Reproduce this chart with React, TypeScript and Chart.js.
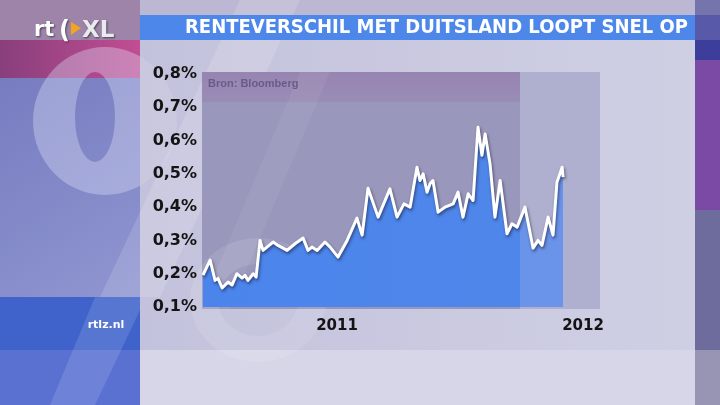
import React, { useEffect, useRef } from "react";
import { Chart, registerables } from "chart.js";

Chart.register(...registerables);

const titleText = "RENTEVERSCHIL MET DUITSLAND LOOPT SNEL OP";
const sourceText = "Bron: Bloomberg";
const siteText = "rtlz.nl";

// time as fractional years
const dates = [
  2010.455, 2010.484, 2010.504, 2010.516, 2010.533, 2010.557, 2010.573, 2010.593,
  2010.614, 2010.626, 2010.638, 2010.659, 2010.671, 2010.687, 2010.699, 2010.740,
  2010.760, 2010.797, 2010.829, 2010.862, 2010.882, 2010.898, 2010.919, 2010.951,
  2010.972, 2011.004, 2011.041, 2011.081, 2011.102, 2011.126, 2011.167, 2011.215,
  2011.244, 2011.272, 2011.297, 2011.325, 2011.337, 2011.350, 2011.366, 2011.378,
  2011.390, 2011.411, 2011.439, 2011.472, 2011.492, 2011.512, 2011.533, 2011.553,
  2011.573, 2011.589, 2011.602, 2011.622, 2011.642, 2011.663, 2011.691, 2011.711,
  2011.732, 2011.764, 2011.797, 2011.817, 2011.833, 2011.858, 2011.878, 2011.894,
  2011.915, 2011.919,
];
// spread vs Germany, %
const spread = [
  0.196, 0.241, 0.18, 0.186, 0.157, 0.175, 0.166, 0.2,
  0.187, 0.195, 0.18, 0.2, 0.19, 0.3, 0.27, 0.295,
  0.285, 0.27, 0.29, 0.307, 0.27, 0.28, 0.27, 0.295,
  0.28, 0.25, 0.3, 0.367, 0.316, 0.457, 0.37, 0.455,
  0.37, 0.41, 0.4, 0.52, 0.48, 0.5, 0.445, 0.47,
  0.48, 0.385, 0.4, 0.41, 0.445, 0.37, 0.44, 0.42,
  0.64, 0.556, 0.62, 0.53, 0.37, 0.48, 0.32, 0.35,
  0.34, 0.4, 0.277, 0.3, 0.285, 0.37, 0.316, 0.475,
  0.52, 0.49,
];
const yTicks = [0.1, 0.2, 0.3, 0.4, 0.5, 0.6, 0.7, 0.8];
const xTicks = [2011, 2012];
const xMin = 2010.451;
const xMax = 2012.069;
const yMin = 0.1;
const yMax = 0.8;
const shadedFrom = 2011.744;

function ringPath(ctx: CanvasRenderingContext2D, cx: number, cy: number, rx: number, ry: number, hx: number, hy: number, hrx: number, hry: number) {
  ctx.beginPath();
  ctx.ellipse(cx, cy, rx, ry, 0, 0, Math.PI * 2);
  ctx.moveTo(hx + hrx, hy);
  ctx.ellipse(hx, hy, hrx, hry, 0, 0, Math.PI * 2);
}

const backgroundPlugin = {
  id: "bgDecor",
  beforeDraw(chart: any) {
    const ctx: CanvasRenderingContext2D = chart.ctx;
    const W = chart.width;
    const H = chart.height;
    ctx.save();
    // main background
    let g = ctx.createLinearGradient(140, 0, 695, 0);
    g.addColorStop(0, "#c3c2dc");
    g.addColorStop(1, "#cfcfe4");
    ctx.fillStyle = g;
    ctx.fillRect(0, 0, W, H);
    ctx.fillStyle = "#bcb7d3";
    ctx.fillRect(140, 0, 555, 15);
    ctx.fillStyle = "#d6d6e8";
    ctx.fillRect(140, 350, 555, 55);

    // left column
    ctx.fillStyle = "#9d84a8";
    ctx.fillRect(0, 0, 140, 40);
    g = ctx.createLinearGradient(0, 0, 140, 0);
    g.addColorStop(0, "#883f7c");
    g.addColorStop(1, "#c24d93");
    ctx.fillStyle = g;
    ctx.fillRect(0, 40, 140, 38);
    g = ctx.createLinearGradient(0, 78, 140, 297);
    g.addColorStop(0, "#767cc0");
    g.addColorStop(1, "#8f96d0");
    ctx.fillStyle = g;
    ctx.fillRect(0, 78, 140, 219);
    // big "0" ring of % watermark
    ctx.save();
    ctx.beginPath();
    ctx.rect(0, 40, 140, 257);
    ctx.clip();
    ringPath(ctx, 105, 121, 72, 74, 95, 117, 20, 45);
    ctx.fillStyle = "rgba(225,228,250,0.36)";
    ctx.fill("evenodd");
    ctx.restore();
    ctx.save();
    ctx.beginPath();
    ctx.rect(140, 40, 60, 200);
    ctx.clip();
    ringPath(ctx, 105, 121, 72, 74, 95, 117, 20, 45);
    ctx.fillStyle = "rgba(255,255,255,0.10)";
    ctx.fill("evenodd");
    ctx.restore();
    // slash of % watermark
    ctx.beginPath();
    ctx.moveTo(240, 0);
    ctx.lineTo(300, 0);
    ctx.lineTo(160, 297);
    ctx.lineTo(100, 297);
    ctx.closePath();
    ctx.fillStyle = "rgba(255,255,255,0.14)";
    ctx.fill();
    // blue bottom block
    ctx.fillStyle = "#3f63cb";
    ctx.fillRect(0, 297, 140, 53);
    ctx.fillStyle = "#5a71d2";
    ctx.fillRect(0, 350, 140, 55);
    ctx.beginPath();
    ctx.moveTo(95, 297);
    ctx.lineTo(140, 297);
    ctx.lineTo(140, 310);
    ctx.lineTo(95, 405);
    ctx.lineTo(50, 405);
    ctx.closePath();
    ctx.fillStyle = "rgba(255,255,255,0.12)";
    ctx.fill();

    // right column
    ctx.fillStyle = "#7574ac";
    ctx.fillRect(695, 0, 25, 15);
    ctx.fillStyle = "#5859a8";
    ctx.fillRect(695, 15, 25, 25);
    ctx.fillStyle = "#3d3e9c";
    ctx.fillRect(695, 40, 25, 20);
    ctx.fillStyle = "#7a4aa4";
    ctx.fillRect(695, 60, 25, 150);
    ctx.fillStyle = "#6e6c9c";
    ctx.fillRect(695, 210, 25, 140);
    ctx.fillStyle = "#9894b4";
    ctx.fillRect(695, 350, 25, 55);

    // title bar
    ctx.fillStyle = "#4d87ea";
    ctx.fillRect(140, 15, 555, 25);
    ctx.font = "bold 19px 'DejaVu Sans'";
    ctx.textBaseline = "middle";
    ctx.textAlign = "left";
    const tw = ctx.measureText(titleText).width;
    ctx.save();
    ctx.translate(185, 28);
    ctx.scale(503 / tw, 1);
    ctx.fillStyle = "#ffffff";
    ctx.fillText(titleText, 0, 0);
    ctx.restore();

    // logo
    ctx.save();
    ctx.shadowColor = "rgba(0,0,0,0.5)";
    ctx.shadowBlur = 2;
    ctx.shadowOffsetX = 1;
    ctx.shadowOffsetY = 1;
    ctx.fillStyle = "#ffffff";
    ctx.font = "bold 21px 'DejaVu Sans'";
    ctx.textBaseline = "alphabetic";
    ctx.fillText("rt", 34, 36);
    ctx.font = "bold 24px 'DejaVu Sans'";
    ctx.fillText("(", 59, 38);
    ctx.fillStyle = "#e9e9ee";
    ctx.font = "bold 23px 'DejaVu Sans'";
    ctx.fillText("XL", 82, 37);
    ctx.restore();
    ctx.beginPath();
    ctx.moveTo(71, 22);
    ctx.lineTo(81, 28);
    ctx.lineTo(71, 35);
    ctx.closePath();
    ctx.fillStyle = "#f2a51f";
    ctx.fill();

    // site text
    ctx.fillStyle = "#ffffff";
    ctx.font = "bold 11px 'DejaVu Sans'";
    ctx.textAlign = "center";
    ctx.textBaseline = "middle";
    ctx.fillText(siteText, 106, 325);

    // chart panels
    const xs = chart.scales.x;
    const area = chart.chartArea;
    const left = area.left;
    const split = xs.getPixelForValue(shadedFrom);
    const right = xs.getPixelForValue(xMax);
    const top = area.top - 2;
    const bottom = area.bottom + 2;
    ctx.fillStyle = "#9997bb";
    ctx.fillRect(left, top, split - left, bottom - top);
    ctx.fillStyle = "#afafd0";
    ctx.fillRect(split, top, right - split, bottom - top);
    g = ctx.createLinearGradient(0, top, 0, top + 30);
    g.addColorStop(0, "rgba(150,110,165,0.45)");
    g.addColorStop(1, "rgba(150,110,165,0.25)");
    ctx.fillStyle = g;
    ctx.fillRect(left, top, split - left, 30);
    // diagonal streak inside panel
    ctx.save();
    ctx.beginPath();
    ctx.rect(left, top, split - left, bottom - top);
    ctx.clip();
    ctx.beginPath();
    ctx.moveTo(300, top);
    ctx.lineTo(330, top);
    ctx.lineTo(230, bottom);
    ctx.lineTo(200, bottom);
    ctx.closePath();
    ctx.fillStyle = "rgba(255,255,255,0.06)";
    ctx.fill();
    ctx.restore();
    // lower ring of % watermark
    ringPath(ctx, 258, 300, 68, 62, 258, 300, 40, 36);
    ctx.fillStyle = "rgba(255,255,255,0.10)";
    ctx.fill("evenodd");

    // source
    ctx.fillStyle = "#675c88";
    ctx.font = "bold 11px 'Liberation Sans'";
    ctx.textAlign = "left";
    ctx.textBaseline = "middle";
    ctx.fillText(sourceText, left + 6, top + 12);
    ctx.restore();
  },
};

const shadowPlugin = {
  id: "lineShadow",
  beforeDatasetDraw(chart: any) {
    const ctx = chart.ctx;
    ctx.save();
    ctx.shadowColor = "rgba(20,20,40,0.55)";
    ctx.shadowBlur = 3;
    ctx.shadowOffsetX = 1;
    ctx.shadowOffsetY = 2;
  },
  afterDatasetDraw(chart: any) {
    chart.ctx.restore();
  },
};

export default function App() {
  const canvasRef = useRef<HTMLCanvasElement | null>(null);

  useEffect(() => {
    document.body.style.margin = "0";
    const canvas = canvasRef.current;
    if (!canvas) return;
    const chart = new Chart(canvas, {
      type: "line",
      data: {
        datasets: [
          {
            data: dates.map((d, i) => ({ x: d, y: spread[i] })),
            borderColor: "#ffffff",
            borderWidth: 3,
            borderJoinStyle: "round",
            pointRadius: 0,
            tension: 0,
            fill: "start",
            backgroundColor: (c: any) => {
              const ch = c.chart;
              const area = ch.chartArea;
              if (!area) return "#4a84ec";
              const xs = ch.scales.x;
              const split = xs.getPixelForValue(shadedFrom);
              const gr = ch.ctx.createLinearGradient(area.left, 0, area.right, 0);
              const f = Math.min(1, Math.max(0, (split - area.left) / (area.right - area.left)));
              gr.addColorStop(0, "#4b85ec");
              gr.addColorStop(f, "#4f86ea");
              gr.addColorStop(Math.min(1, f + 0.001), "#6a93ea");
              gr.addColorStop(1, "#6a93ea");
              return gr;
            },
          },
        ],
      },
      options: {
        animation: false,
        responsive: true,
        maintainAspectRatio: false,
        layout: { padding: { top: 74, right: 120, bottom: 0, left: 0 } },
        plugins: {
          legend: { display: false },
          tooltip: { enabled: false },
        },
        scales: {
          x: {
            type: "linear",
            min: xMin,
            max: xMax,
            afterFit: (s: any) => {
              s.height = 98;
            },
            afterBuildTicks: (s: any) => {
              s.ticks = xTicks.map((v) => ({ value: v }));
            },
            ticks: {
              callback: (v: any) => String(v),
              font: { family: "'DejaVu Sans'", weight: "bold", size: 15 },
              color: "#141414",
              padding: 10,
              maxRotation: 0,
              autoSkip: false,
            },
            grid: { display: false, drawTicks: false },
            border: { display: false },
          },
          y: {
            min: yMin,
            max: yMax,
            afterFit: (s: any) => {
              s.width = 202;
            },
            afterBuildTicks: (s: any) => {
              s.ticks = yTicks.map((v) => ({ value: v }));
            },
            ticks: {
              callback: (v: any) => Number(v).toFixed(1).replace(".", ",") + "%",
              font: { family: "'DejaVu Sans'", weight: "bold", size: 16 },
              color: "#141414",
              padding: 5,
            },
            grid: { display: false, drawTicks: false },
            border: { display: false },
          },
        },
      },
      plugins: [backgroundPlugin, shadowPlugin],
    } as any);
    return () => chart.destroy();
  }, []);

  return (
    <div style={{ position: "fixed", left: 0, top: 0, width: 720, height: 405 }}>
      <canvas ref={canvasRef} />
    </div>
  );
}
